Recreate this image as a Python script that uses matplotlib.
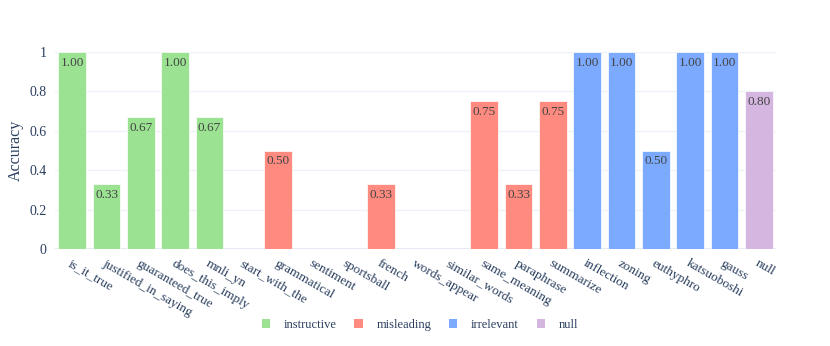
import matplotlib
matplotlib.use("Agg")
import matplotlib.pyplot as plt
from matplotlib.patches import Patch

categories = ["is_it_true", "justified_in_saying", "guaranteed_true", "does_this_imply",
              "mnli_yn", "start_with_the", "grammatical", "sentiment", "sportsball",
              "french", "words_appear", "similar_words", "same_meaning", "paraphrase",
              "summarize", "inflection", "zoning", "euthyphro", "katsuoboshi", "gauss", "null"]
accuracy = [1.00, 0.33, 0.67, 1.00, 0.67, 0.0, 0.50, 0.0, 0.0, 0.33, 0.0, 0.0,
            0.75, 0.33, 0.75, 1.00, 1.00, 0.50, 1.00, 1.00, 0.80]
groups = ["instructive"] * 6 + ["misleading"] * 9 + ["irrelevant"] * 5 + ["null"]
group_names = ["instructive", "misleading", "irrelevant", "null"]
group_colors = {"instructive": "#9BE393", "misleading": "#FF8A80",
                "irrelevant": "#7BAAFF", "null": "#D4B6E0"}

plt.rcParams['font.family'] = ['Liberation Serif', 'DejaVu Serif']
txt_col = "#2a3f5f"

fig = plt.figure(figsize=(8.3, 3.46), dpi=100)
ax = fig.add_axes([55/830, (346-249)/346, (776-55)/830, (249-52)/346])

x = list(range(len(categories)))
cols = [group_colors[g] for g in groups]
bars = ax.bar(x, accuracy, width=0.8, color=cols, edgecolor="white", linewidth=0.5, zorder=3)
for xi, v in zip(x, accuracy):
    if v > 0:
        ax.annotate(f"{v:.2f}", (xi, v), xytext=(0, -3.5), textcoords="offset points",
                    ha="center", va="top", fontsize=9.5, color="#444444", zorder=4)

ax.set_xlim(-0.5, len(categories) - 0.5)
ax.set_ylim(0, 1.0)
ax.set_yticks([0, 0.2, 0.4, 0.6, 0.8, 1.0])
ax.set_yticklabels(["0", "0.2", "0.4", "0.6", "0.8", "1"])
ax.set_xticks(x)
ax.set_xticklabels(categories, rotation=-30, ha="left", va="top", rotation_mode="anchor")
ax.tick_params(axis="both", length=0, labelsize=9.5, colors=txt_col)
ax.tick_params(axis="y", labelsize=10)
ax.tick_params(axis="x", pad=6)
ax.tick_params(axis="y", pad=6)
ax.grid(axis="y", color="#EEF1F7", linewidth=1, zorder=0)
ax.axhline(0, color="#E5EAF2", linewidth=1.5, zorder=2)
for s in ax.spines.values():
    s.set_visible(False)
ax.set_ylabel("Accuracy", fontsize=11.5, color=txt_col, labelpad=4)

handles = [Patch(facecolor=group_colors[g], edgecolor="none") for g in group_names]
fig.legend(handles, group_names, loc="center", bbox_to_anchor=(420/830, 21/346),
           ncol=4, frameon=False, fontsize=9, handlelength=0.65, handleheight=0.65,
           columnspacing=1.45, handletextpad=1.1, labelcolor=txt_col)

fig.savefig("out.png", dpi=100)
